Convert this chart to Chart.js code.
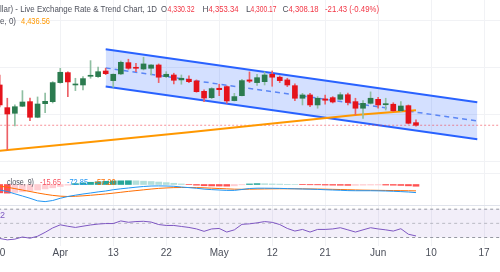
<!DOCTYPE html>
<html>
<head>
<meta charset="utf-8">
<script src="https://cdn.jsdelivr.net/npm/chart.js@4.4.1/dist/chart.umd.min.js"></script>
<style>
  html, body { margin: 0; padding: 0; background: #fff; }
  #wrap { position: relative; width: 500px; height: 272px; overflow: hidden; }
  canvas { position: absolute; left: 0; }
  #mainChart { top: 0; }
  #macdChart { top: 163px; }
  #rsiChart { top: 205px; }
  .sep { position: absolute; left: 0; width: 500px; height: 1px; background: #e0e3eb; }
</style>
</head>
<body>
<div id="wrap">
  <canvas id="mainChart" width="500" height="163"></canvas>
  <canvas id="macdChart" width="500" height="42"></canvas>
  <canvas id="rsiChart" width="500" height="67"></canvas>
  <div class="sep" style="top:205px"></div>
</div>
<script>
// Time axis: bar index of each date label (daily bars, weekends skipped).
const tickIdx = [0, 8, 15, 22, 29, 36, 43, 50, 57, 64];
const tickLabels = ['20', 'Apr', '13', '22', 'May', '12', '21', 'Jun', '10', '17'];

// Daily candles (last one from the header).
const opens = [4651, 4458, 4410, 4470, 4509, 4376, 4492, 4509, 4671, 4756,
               4651, 4651, 4725, 4722, 4770, 4688, 4745, 4841, 4798, 4787,
               4793, 4821, 4722, 4736, 4694, 4700, 4685, 4597, 4543, 4623,
               4637, 4518, 4560, 4694, 4671, 4679, 4742, 4717, 4694, 4645,
               4538, 4566, 4481, 4532, 4543, 4529, 4568, 4509, 4453, 4495,
               4529, 4483, 4487, 4432, 4475, 4330.32];
const highs = [4736, 4538, 4481, 4603, 4540, 4549, 4583, 4679, 4793, 4762,
               4708, 4722, 4858, 4804, 4793, 4745, 4855, 4870, 4836, 4887,
               4824, 4830, 4764, 4751, 4736, 4728, 4694, 4609, 4628, 4657,
               4643, 4580, 4700, 4762, 4742, 4762, 4770, 4728, 4708, 4660,
               4580, 4580, 4552, 4566, 4552, 4586, 4583, 4538, 4518, 4592,
               4546, 4538, 4500, 4509, 4481, 4353.34];
const lows = [4464, 4098, 4302, 4466, 4347, 4372, 4415, 4498, 4666, 4552,
              4603, 4609, 4708, 4715, 4739, 4632, 4739, 4785, 4764, 4779,
              4736, 4671, 4713, 4660, 4657, 4671, 4589, 4509, 4534, 4560,
              4495, 4515, 4558, 4671, 4648, 4651, 4640, 4671, 4637, 4518,
              4481, 4466, 4453, 4487, 4498, 4523, 4481, 4396, 4366, 4489,
              4453, 4438, 4424, 4424, 4319, 4300.17];
const closes = [4481, 4404, 4466, 4506, 4376, 4489, 4512, 4671, 4759, 4677,
                4657, 4705, 4730, 4764, 4747, 4742, 4844, 4793, 4793, 4830,
                4821, 4717, 4742, 4691, 4708, 4679, 4594, 4540, 4620, 4611,
                4515, 4552, 4688, 4683, 4713, 4736, 4717, 4688, 4651, 4538,
                4566, 4481, 4538, 4521, 4506, 4568, 4502, 4453, 4495, 4538,
                4481, 4492, 4432, 4472, 4325, 4308.18];

// Moving average line (orange), read at a few bars.
const emaIdx = [-1, 0, 12, 25, 37, 47, 55];
const emaVals = [4086, 4092, 4165, 4248, 4330, 4395, 4436.56];

// Parallel channel drawing: start/end bar, upper and lower edge prices.
const channelIdx = [14, 63.1];
const channelTop = [4955, 4504];
const channelBottom = [4637, 4189];
const channelMid = [4796, 4345];
const lastPrice = 4308.18;
const priceGrid = [4000, 4400, 4800, 5200];

// MACD (12, 26, close, 9)
const macdLine = [-49.5, -63, -84, -103.5, -124, -147, -154, -144, -124, -108,
                  -96, -85.5, -76.5, -66.6, -58.5, -47, -38.7, -31.5, -24.3, -18,
                  -13.5, -12.6, -13.5, -16, -22.5, -28, -34, -41.4, -46, -49.5,
                  -53, -53, -45, -36, -33.3, -33.3, -34, -35, -37, -38.7,
                  -40.5, -42, -44, -47, -49.5, -52, -55, -56, -56, -56,
                  -57, -58.5, -61, -64, -67.5, -72.85];
const signalLine = [-13.5, -25, -37, -50, -63, -76, -88, -98, -105, -108,
                    -106, -102, -97, -91, -85, -78, -70, -62, -55, -48,
                    -41, -35, -31, -28, -27, -27, -28, -30, -33, -36,
                    -39, -42, -43, -42, -41, -40, -39, -38.5, -38.5, -38.6,
                    -39, -40, -41, -42, -43.5, -45, -47, -49, -50.5, -51.5,
                    -52.5, -53.5, -54.5, -55.5, -56.5, -57.2];
const macdHist = [-75, -78, -72, -66, -58, -50, -40, -30, -18, -6,
                  8, 14, 20, 25, 29, 32, 33, 34, 33, 30,
                  27, 22, 17, 11, 5, -1, -6, -11, -13, -14,
                  -15, -12, -3, 5, 8, 7, 5, 3.5, 1.5, 0.5,
                  -1.5, -2.5, -3, -5, -6, -7, -8, -7.5, -6, -5,
                  -4.5, -5, -6.5, -8.5, -12, -15.65];

// RSI (14)
const rsiVals = [28.6, 26.7, 27.7, 30.7, 29, 31.8, 37.3, 43.5, 47.9, 45.9,
                 44.2, 46, 47.7, 49, 49.7, 49.7, 53.4, 51.5, 52.5, 52.9,
                 51.8, 48.3, 47, 47, 45.6, 44.2, 42.1, 38.7, 42.1, 42.8,
                 37.7, 40.8, 48.6, 49.3, 50.7, 52.5, 51.4, 48.3, 42.8, 39.1,
                 41.4, 37.7, 41.4, 41.4, 42.1, 43.8, 40.8, 37.7, 40.8, 43.8,
                 42.1, 40.8, 39.1, 42.4, 34.6, 32.2];
const rsiLevels = [70, 50, 30];

const xMin = 0.036, xMax = 66.1;
const FONT = '"Liberation Sans", Arial, sans-serif';
const GRID = '#f1f2f5';
const UP = '#2b7b4f', DOWN = '#e5131b';
const UP_WICK = '#8fbfa2', DOWN_WICK = '#ec6066';

function xScale(showLabels) {
    return {
        type: 'linear',
        min: xMin,
        max: xMax,
        offset: false,
        grid: { color: GRID, drawTicks: false, offset: false },
        border: { display: false },
        afterBuildTicks: function(scale) {
            scale.ticks = tickIdx.map(v => ({ value: v }));
        },
        afterFit: function(scale) {
            scale.paddingLeft = 0;
            scale.paddingRight = 0;
        },
        ticks: {
            display: showLabels,
            autoSkip: false,
            maxRotation: 0,
            padding: 1,
            color: '#4a4e59',
            font: { family: FONT, size: 10 },
            callback: function(value) {
                return tickLabels[tickIdx.indexOf(value)];
            }
        }
    };
}

function yScale(min, max, gridVals) {
    return {
        min: min,
        max: max,
        afterBuildTicks: function(scale) {
            scale.ticks = gridVals.map(v => ({ value: v }));
        },
        ticks: { display: false },
        grid: { color: GRID, drawTicks: false, display: gridVals.length > 0 },
        border: { display: false }
    };
}

// Draws small legend texts on top of a pane.
function textPlugin(id, items) {
    return {
        id: id,
        afterDraw: function(chart) {
            let ctx = chart.ctx;
            ctx.save();
            ctx.textBaseline = 'middle';
            ctx.textAlign = 'left';
            items.forEach(t => {
                ctx.font = (t.size || 9) + 'px ' + FONT;
                ctx.fillStyle = t.color;
                if (t.w) ctx.fillText(t.text, t.x, t.y, t.w);
                else ctx.fillText(t.text, t.x, t.y);
            });
            ctx.restore();
        }
    };
}

function line(pts, color, width, extra) {
    return Object.assign({
        type: 'line',
        data: pts,
        borderColor: color,
        borderWidth: width,
        pointRadius: 0,
        tension: 0,
        fill: false
    }, extra || {});
}

const baseOptions = {
    responsive: false,
    animation: false,
    devicePixelRatio: 1,
    events: [],
    layout: { padding: 0 },
    plugins: { legend: { display: false }, tooltip: { enabled: false } }
};

// ---- main price pane ----
let wickPts = [], bodyPts = [];
for (let i = 0; i < opens.length; i++) {
    wickPts.push({ x: i, y: [lows[i], highs[i]] });
    bodyPts.push({ x: i, y: [opens[i], closes[i]] });
}
let isUp = i => closes[i] >= opens[i];
let pairs = (xs, ys) => xs.map((x, i) => ({ x: x, y: ys[i] }));

let RED_TXT = '#f23645', GRAY_TXT = '#50535e';

new Chart(document.getElementById('mainChart'), {
    type: 'bar',
    data: {
        datasets: [
            line(pairs(channelIdx, channelTop), '#2962ff', 2, { fill: '+1', backgroundColor: 'rgba(41,98,255,0.2)', order: 6 }),
            line(pairs(channelIdx, channelBottom), '#2962ff', 2, { order: 6 }),
            line(pairs(channelIdx, channelMid), '#5b86f5', 1.5, { borderDash: [5, 4], order: 5 }),
            line([{ x: -1, y: lastPrice }, { x: 70, y: lastPrice }], 'rgba(242,54,69,0.55)', 1, { borderDash: [2, 2], order: 4 }),
            line(pairs(emaIdx, emaVals), '#ff9800', 2, { order: 3 }),
            {
                type: 'bar',
                data: wickPts,
                backgroundColor: ctx => isUp(ctx.dataIndex) ? UP_WICK : DOWN_WICK,
                barThickness: 1,
                grouped: false,
                order: 2
            },
            {
                type: 'bar',
                data: bodyPts,
                backgroundColor: ctx => isUp(ctx.dataIndex) ? UP : DOWN,
                barThickness: 5,
                minBarLength: 1,
                grouped: false,
                order: 1
            }
        ]
    },
    options: Object.assign({}, baseOptions, {
        scales: { x: xScale(false), y: yScale(3987, 5374, priceGrid) }
    }),
    plugins: [textPlugin('header', [
        { text: 'llar) - Live Exchange Rate & Trend Chart, 1D', x: 0, y: 10, w: 157, color: GRAY_TXT },
        { text: 'O', x: 161, y: 10, w: 6, color: GRAY_TXT },
        { text: '4,330.32', x: 167.5, y: 10, w: 27, color: RED_TXT },
        { text: 'H', x: 202.5, y: 10, w: 6, color: GRAY_TXT },
        { text: '4,353.34', x: 208.5, y: 10, w: 30, color: RED_TXT },
        { text: 'L', x: 246, y: 10, color: GRAY_TXT },
        { text: '4,300.17', x: 250.5, y: 10, w: 26, color: RED_TXT },
        { text: 'C', x: 282.5, y: 10, w: 6, color: GRAY_TXT },
        { text: '4,308.18', x: 288.5, y: 10, w: 30, color: RED_TXT },
        { text: '-21.43 (-0.49%)', x: 325, y: 10, w: 54, color: RED_TXT },
        { text: 'e, 0)', x: 0, y: 22, w: 16, color: GRAY_TXT },
        { text: '4,436.56', x: 21, y: 22, w: 29, color: '#ff9800' }
    ])]
});

// ---- MACD pane ----
new Chart(document.getElementById('macdChart'), {
    type: 'bar',
    data: {
        datasets: [
            {
                type: 'bar',
                data: pairs(macdHist.map((v, i) => i), macdHist),
                backgroundColor: function(ctx) {
                    let i = ctx.dataIndex;
                    let v = macdHist[i];
                    let prev = i > 0 ? macdHist[i - 1] : v;
                    if (v >= 0) return v >= prev ? '#26a69a' : '#b2dfdb';
                    return v <= prev ? '#ff5252' : '#ffcdd2';
                },
                barThickness: 6,
                grouped: false,
                order: 3
            },
            line(pairs(signalLine.map((v, i) => i), signalLine), '#ff6d00', 1, { order: 2 }),
            line(pairs(macdLine.map((v, i) => i), macdLine), '#2196f3', 1, { order: 1 })
        ]
    },
    options: Object.assign({}, baseOptions, {
        scales: { x: xScale(false), y: yScale(-184.5, 193.5, [100]) }
    }),
    plugins: [textPlugin('macdLegend', [
        { text: 'close, 9)', x: 7, y: 19.7, w: 27, color: GRAY_TXT },
        { text: '-15.65', x: 40, y: 19.7, w: 21, color: '#f7525f' },
        { text: '-72.85', x: 67, y: 19.7, w: 21, color: '#2196f3' },
        { text: '-57.20', x: 94.5, y: 19.7, w: 21, color: '#ff6d00' }
    ])]
});

// ---- RSI pane + time axis ----
let levelLine = v => [{ x: -1, y: v }, { x: 70, y: v }];
new Chart(document.getElementById('rsiChart'), {
    type: 'line',
    data: {
        datasets: [
            line(levelLine(rsiLevels[0]), '#9598a1', 1, { borderDash: [3, 3], fill: { value: rsiLevels[2] }, backgroundColor: 'rgba(126,87,194,0.1)', order: 4 }),
            line(levelLine(rsiLevels[1]), 'rgba(149,152,161,0.6)', 1, { borderDash: [3, 3], order: 3 }),
            line(levelLine(rsiLevels[2]), '#9598a1', 1, { borderDash: [3, 3], order: 2 }),
            line(pairs(rsiVals.map((v, i) => i), rsiVals), '#7e57c2', 1, { order: 1 })
        ]
    },
    options: Object.assign({}, baseOptions, {
        layout: { padding: { bottom: 12 } },
        scales: { x: xScale(true), y: yScale(18, 75.9, []) }
    }),
    plugins: [textPlugin('rsiLegend', [
        { text: '2', x: 0, y: 11, color: '#7e57c2' }
    ])]
});
</script>
</body>
</html>
